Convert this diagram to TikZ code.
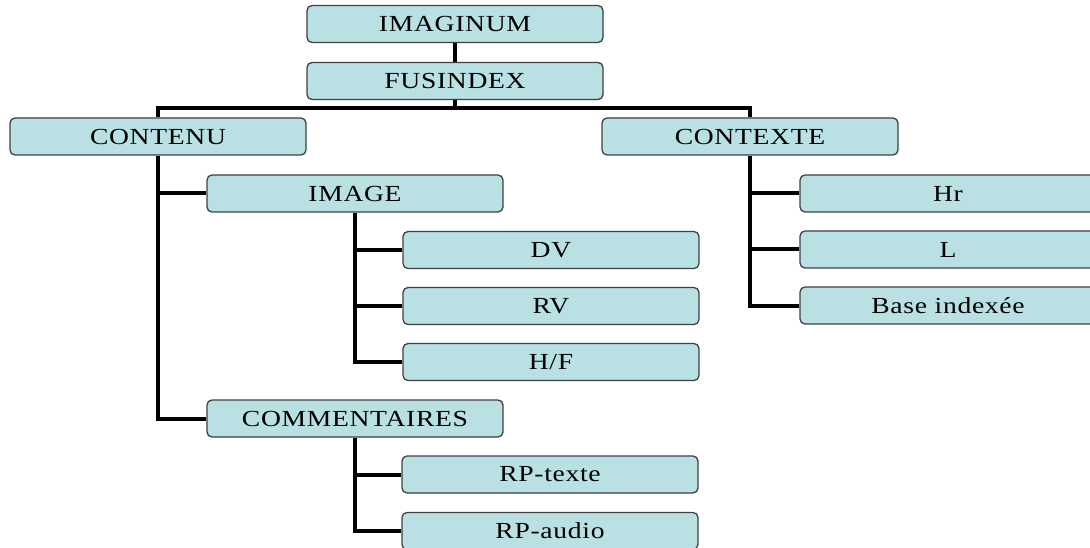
\documentclass[tikz,border=0pt]{standalone}
\usepackage{fontspec}
\setmainfont{Liberation Serif}[FakeStretch=1.2,LetterSpace=3]
\usetikzlibrary{backgrounds}
\definecolor{boxfill}{HTML}{B9E0E3}
\definecolor{boxedge}{HTML}{404040}
\begin{document}
\begin{tikzpicture}[x=1pt,y=-1pt,
  box/.style={draw=boxedge,fill=boxfill,line width=1.3pt,rounded corners=5pt,
    minimum width=296pt,minimum height=37pt,inner sep=0pt,
    font=\fontsize{23}{26}\selectfont},
  link/.style={line width=4pt,black}]
\useasboundingbox (0,0) rectangle (1090,548);
\clip (0,0) rectangle (1090,548);
\node[box] (imaginum) at (455,24) {IMAGINUM};
\node[box] (fusindex) at (455,81) {FUSINDEX};
\node[box] (contenu) at (158,136.5) {CONTENU};
\node[box] (contexte) at (750,136.5) {CONTEXTE};
\node[box] (image) at (355,193.5) {IMAGE};
\node[box] (dv) at (551,250) {DV};
\node[box] (rv) at (551,306) {RV};
\node[box] (hf) at (551,362) {H/F};
\node[box] (comm) at (355,418.5) {COMMENTAIRES};
\node[box] (rptexte) at (550,474.5) {RP-texte};
\node[box] (rpaudio) at (550,531) {RP-audio};
\node[box] (hr) at (948,193.5) {Hr};
\node[box] (l) at (948,249.5) {L};
\node[box] (base) at (948,305.5) {Base indexée};
\coordinate (bus) at (455,108);
\begin{scope}[on background layer]
\draw[link] (imaginum.south) -- (fusindex.north);
\draw[link] (fusindex.south) -- (bus);
\draw[link] (bus) -| (contenu.north);
\draw[link] (bus) -| (contexte.north);
\draw[link] (contenu.south) |- (image.west);
\draw[link] (contenu.south) |- (comm.west);
\draw[link] (image.south) |- (dv.west);
\draw[link] (image.south) |- (rv.west);
\draw[link] (image.south) |- (hf.west);
\draw[link] (comm.south) |- (rptexte.west);
\draw[link] (comm.south) |- (rpaudio.west);
\draw[link] (contexte.south) |- (hr.west);
\draw[link] (contexte.south) |- (l.west);
\draw[link] (contexte.south) |- (base.west);
\end{scope}
\end{tikzpicture}
\end{document}
